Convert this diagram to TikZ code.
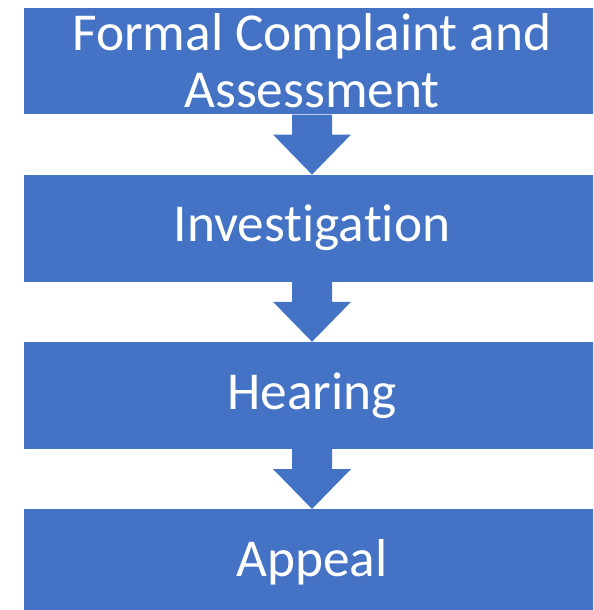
\documentclass[tikz,border=0pt]{standalone}
\usepackage{fontspec}
\setmainfont{Carlito}[Ligatures=CommonOff]
\usetikzlibrary{positioning,calc}
\definecolor{boxblue}{HTML}{4472C4}
\tikzset{
	stage/.style={fill=boxblue, text=white, minimum width=432pt, minimum height=80pt, inner sep=0pt, align=center, font=\fontsize{40}{42.5}\selectfont},
	blockarrow/.style={fill=boxblue}
}
\begin{document}
\begin{tikzpicture}[x=0.75pt, y=-0.75pt, node distance=45pt]
				\clip (0,0) rectangle (593,610);
				\fill[white] (0,0) rectangle (593,610);
				
				\node[stage](complaint) at (312,61) {Formal Complaint and\\Assessment};
				\node[stage, below=of complaint](investigation) {Investigation};
				\node[stage, below=of investigation](hearing) {Hearing};
				\node[stage, below=of hearing](appeal) {Appeal};
				
				% block arrows between the stages
				\fill[blockarrow] ($(complaint.south)+(-20,0)$) -- ($(complaint.south)+(-20,20)$) -- ($(complaint.south)+(-39,20)$) -- (investigation.north) -- ($(complaint.south)+(39,20)$) -- ($(complaint.south)+(20,20)$) -- ($(complaint.south)+(20,0)$) -- cycle;
				\fill[blockarrow] ($(investigation.south)+(-20,0)$) -- ($(investigation.south)+(-20,20)$) -- ($(investigation.south)+(-39,20)$) -- (hearing.north) -- ($(investigation.south)+(39,20)$) -- ($(investigation.south)+(20,20)$) -- ($(investigation.south)+(20,0)$) -- cycle;
				\fill[blockarrow] ($(hearing.south)+(-20,0)$) -- ($(hearing.south)+(-20,20)$) -- ($(hearing.south)+(-39,20)$) -- (appeal.north) -- ($(hearing.south)+(39,20)$) -- ($(hearing.south)+(20,20)$) -- ($(hearing.south)+(20,0)$) -- cycle;
\end{tikzpicture}
\end{document}
